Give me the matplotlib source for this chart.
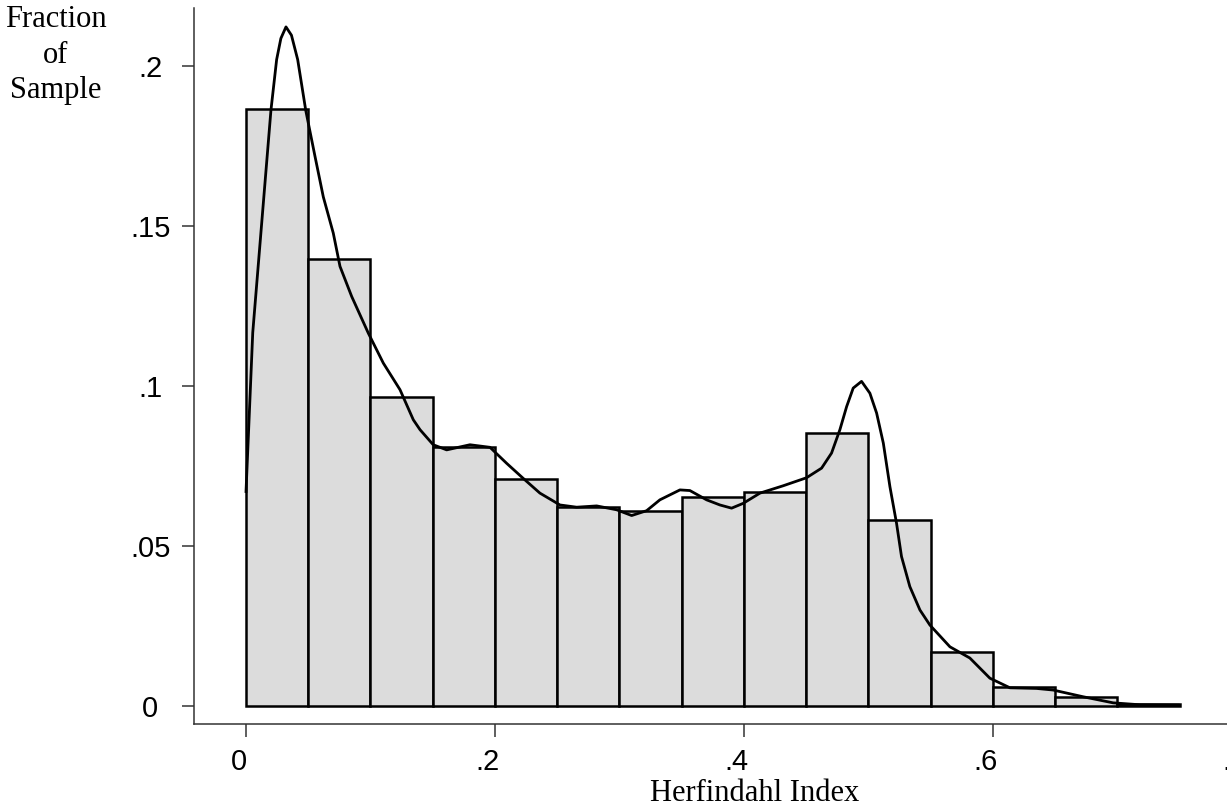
import numpy as np
import matplotlib
matplotlib.use('Agg')
import matplotlib.pyplot as plt
import matplotlib.transforms as mtransforms

# histogram: bin left edges and fraction of sample
bin_left = [0.00, 0.05, 0.10, 0.15, 0.20, 0.25, 0.30, 0.35,
            0.40, 0.45, 0.50, 0.55, 0.60, 0.65, 0.70]
fraction = [0.1866, 0.1397, 0.0966, 0.0810, 0.0709, 0.0621, 0.0609, 0.0652,
            0.0667, 0.0854, 0.0582, 0.0170, 0.0058, 0.0027, 0.0006]
bin_width = 0.05

# density curve
curve_x = [0.0, 0.0054, 0.012, 0.020, 0.0246, 0.0280, 0.0321, 0.0365, 0.0415,
           0.048, 0.0554,
           0.0621, 0.0701, 0.0755, 0.0849, 0.0982, 0.1103, 0.1237, 0.1344,
           0.1398, 0.1504, 0.1612, 0.1799, 0.196, 0.2094, 0.2227, 0.2361,
           0.2522, 0.2656, 0.2817, 0.2977, 0.3098, 0.3218, 0.3325, 0.3486,
           0.3566, 0.37, 0.3807, 0.3901, 0.3994, 0.4129, 0.4316, 0.4503,
           0.4624, 0.4704, 0.4771, 0.4825, 0.4878, 0.4945, 0.5012, 0.5066,
           0.512, 0.5173, 0.5226, 0.5266, 0.5333, 0.5414, 0.5494, 0.5655,
           0.5815, 0.5976, 0.6137, 0.6351, 0.6484, 0.6725, 0.6966, 0.7181,
           0.749]
curve_y = [0.067, 0.1166, 0.148, 0.186, 0.2019, 0.2085, 0.2121, 0.2095, 0.2019,
           0.186, 0.1717,
           0.159, 0.1477, 0.1373, 0.1279, 0.1165, 0.1071, 0.0988, 0.0894,
           0.0863, 0.0816, 0.0800, 0.0816, 0.0808, 0.0758, 0.0711, 0.0665,
           0.0628, 0.0621, 0.0625, 0.0613, 0.0595, 0.0610, 0.0644, 0.0675,
           0.0673, 0.0644, 0.0628, 0.0618, 0.0633, 0.0665, 0.0688, 0.0713,
           0.0743, 0.0790, 0.0863, 0.0935, 0.0993, 0.1014, 0.0977, 0.0915,
           0.0821, 0.0685, 0.0571, 0.0467, 0.0373, 0.0300, 0.0253, 0.0185,
           0.0150, 0.0087, 0.0057, 0.0055, 0.0050, 0.0029, 0.0010, 0.0004,
           0.0003]

xticks = [0, 0.2, 0.4, 0.6, 0.8]
xtick_labels = ['0', '.2', '.4', '.6', '.8']
yticks = [0, 0.05, 0.1, 0.15, 0.2]
ytick_labels = ['0', '.05', '.1', '.15', '.2']

sans = ['Liberation Sans', 'DejaVu Sans']
serif = ['Liberation Serif', 'DejaVu Serif']
axis_col = '#333333'

fig = plt.figure(figsize=(12.27, 8.09), dpi=100)
ax = fig.add_axes([0.1581, 0.1051, 0.9047, 0.885])

ax.bar(bin_left, fraction, width=bin_width, align='edge',
       color='#dcdcdc', edgecolor='black', linewidth=1.8, zorder=2)
ax.plot(curve_x, curve_y, color='black', linewidth=2.0, zorder=3,
        solid_joinstyle='round')

ax.set_xlim(-0.0418, 0.85)
ax.set_ylim(-0.0056, 0.218)

for s in ['top', 'right']:
    ax.spines[s].set_visible(False)
for s in ['left', 'bottom']:
    ax.spines[s].set_color(axis_col)
    ax.spines[s].set_linewidth(1.1)

ax.set_xticks(xticks)
ax.set_xticklabels(xtick_labels, fontsize=21, family=sans)
ax.set_yticks(yticks)
ax.set_yticklabels(ytick_labels, fontsize=21, family=sans, ha='center')
ax.tick_params(axis='x', length=9.4, width=1.1, color=axis_col, pad=8)
ax.tick_params(axis='y', length=8.6, width=1.1, color=axis_col, pad=23)

# x tick labels sit a bit left of their ticks in the original
shift = mtransforms.ScaledTranslation(-7 / 100, 0, fig.dpi_scale_trans)
for lab in ax.get_xticklabels():
    lab.set_transform(lab.get_transform() + shift)

fig.text(0.0456, 1 - 5 / 809, 'Fraction\nof\nSample', ha='center', va='top',
         fontsize=22, family=serif, linespacing=1.3)
fig.text(0.615, 8 / 809, 'Herfindahl Index', ha='center', va='baseline',
         fontsize=22, family=serif)

fig.savefig('out.png', dpi=100)
